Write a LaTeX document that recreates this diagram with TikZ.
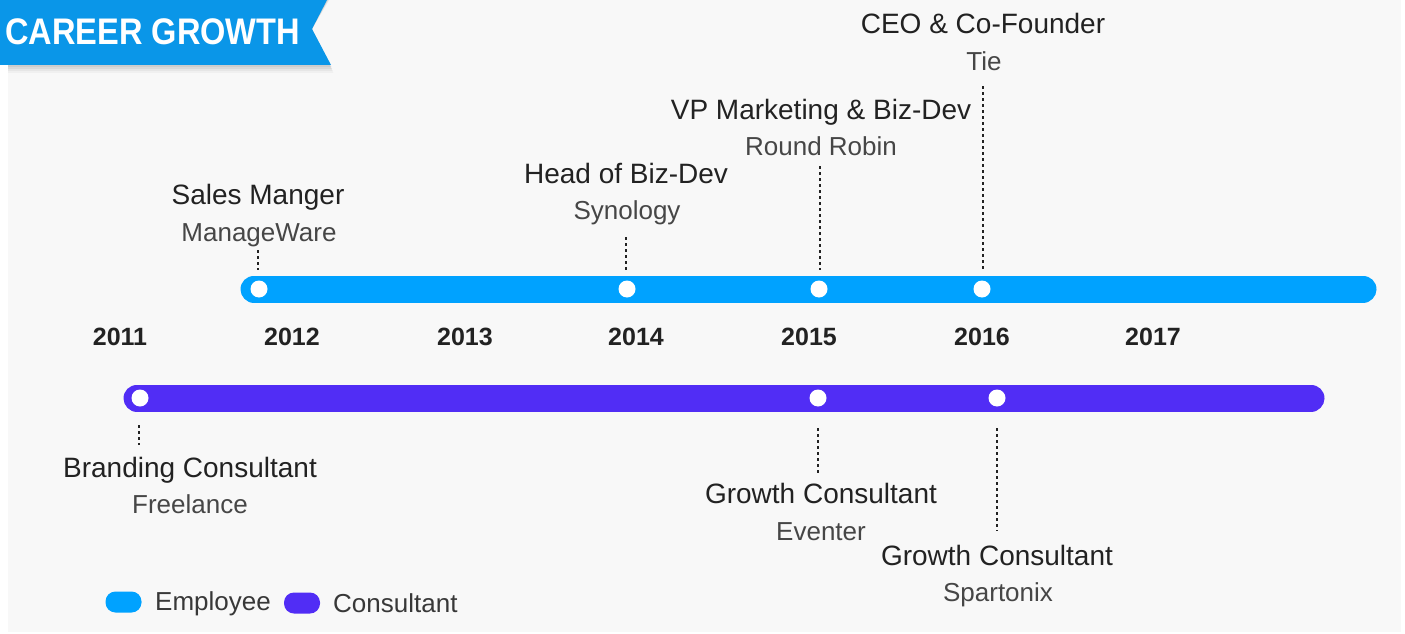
\documentclass[tikz,border=0pt]{standalone}
\usepackage{fontspec}
\setmainfont{Liberation Sans}
\definecolor{bgc}{HTML}{F8F8F8}
\definecolor{ribbon}{HTML}{0A96E8}
\definecolor{emp}{HTML}{00A2FF}
\definecolor{con}{HTML}{512DF5}
\definecolor{ttl}{HTML}{222222}
\definecolor{sub}{HTML}{464646}
\tikzset{
  bar/.style={line width=27pt, line cap=round},
  dotw/.style={circle, fill=white, inner sep=0pt, minimum size=17pt},
  vdots/.style={line width=2.8pt, dash pattern=on 2.8pt off 3.2pt, ttl},
  ttlnode/.style={font=\fontsize{28}{30}\selectfont, text=ttl, inner sep=0pt, anchor=base, yshift=-10pt},
  subnode/.style={font=\fontsize{26}{30}\selectfont, text=sub, inner sep=0pt, anchor=base, yshift=-9.5pt},
  year/.style={font=\fontsize{25}{28}\selectfont\bfseries, text=ttl, inner sep=0pt, anchor=center},
  pill/.style={rounded corners=10pt, inner sep=0pt, minimum width=36pt, minimum height=21pt},
  legtext/.style={font=\fontsize{26}{30}\selectfont, text=ttl!90, inner sep=0pt, anchor=base west, yshift=-9.5pt},
}
\begin{document}
\begin{tikzpicture}[x=1pt,y=-1pt]
\useasboundingbox (0,0) rectangle (1405,634);
\fill[bgc] (8,0) rectangle (1401,632);
% ribbon shadow
\foreach \o/\a in {2/0.06,4/0.05,6/0.04,8/0.03}{
  \fill[black,opacity=\a] (8,0) -- (327+\o*0.3,0) -- (312,29) -- (331+\o*0.3,65+\o) -- (8,65+\o) -- cycle;
}
% ribbon
\fill[ribbon] (0,0) -- (327,0) -- (312,29) -- (331,65) -- (0,65) -- cycle;
\node[font=\fontsize{37}{40}\selectfont\bfseries, text=white, inner sep=0pt, anchor=west] (title) at (5,32) {\scalebox{0.88}[1]{CAREER GROWTH}};

% bars
\coordinate (e1) at (254,289); \coordinate (e2) at (1363,289);
\coordinate (c1) at (137,398); \coordinate (c2) at (1311,398);
\draw[bar, emp] (e1) -- (e2);
\draw[bar, con] (c1) -- (c2);

% employee dots
\node[dotw] (d1) at (259,289) {};
\node[dotw] (d2) at (627,289) {};
\node[dotw] (d3) at (819,289) {};
\node[dotw] (d4) at (982,289) {};
% consultant dots
\node[dotw] (k1) at (140,398) {};
\node[dotw] (k2) at (818,398) {};
\node[dotw] (k3) at (997,398) {};

% years
\node[year] (y11) at (120,337) {2011};
\node[year] (y12) at (292,337) {2012};
\node[year] (y13) at (465,337) {2013};
\node[year] (y14) at (636,337) {2014};
\node[year] (y15) at (809,337) {2015};
\node[year] (y16) at (982,337) {2016};
\node[year] (y17) at (1153,337) {2017};

% employee labels
\node[ttlnode] (t1) at (258,194) {Sales Manger};
\node[subnode] (s1) at (259,232) {ManageWare};
\coordinate (p1) at (258,250); \coordinate (q1) at (258,270);
\draw[vdots] (p1) -- (q1);

\node[ttlnode] (t2) at (626,173) {Head of Biz-Dev};
\node[subnode] (s2) at (627,210) {Synology};
\coordinate (p2) at (626,237); \coordinate (q2) at (626,270);
\draw[vdots] (p2) -- (q2);

\node[ttlnode] (t3) at (821,109) {VP Marketing \& Biz-Dev};
\node[subnode] (s3) at (821,146) {Round Robin};
\coordinate (p3) at (820,166); \coordinate (q3) at (820,270);
\draw[vdots] (p3) -- (q3);

\node[ttlnode] (t4) at (983,24) {CEO \& Co-Founder};
\node[subnode] (s4) at (984,61) {Tie};
\coordinate (p4) at (983,86); \coordinate (q4) at (983,270);
\draw[vdots] (p4) -- (q4);

% consultant labels
\coordinate (p5) at (139,425); \coordinate (q5) at (139,445);
\draw[vdots] (p5) -- (q5);
\node[ttlnode] (t5) at (190,467) {Branding Consultant};
\node[subnode] (s5) at (190,504) {Freelance};

\coordinate (p6) at (818,428); \coordinate (q6) at (818,474);
\draw[vdots] (p6) -- (q6);
\node[ttlnode] (t6) at (821,493) {Growth Consultant};
\node[subnode] (s6) at (821,531) {Eventer};

\coordinate (p7) at (997,428); \coordinate (q7) at (997,531);
\draw[vdots] (p7) -- (q7);
\node[ttlnode] (t7) at (997,555) {Growth Consultant};
\node[subnode] (s7) at (998,592) {Spartonix};

% legend
\node[pill, fill=emp] (le) at (123.5,602) {};
\node[legtext] (lt1) at (155,601) {Employee};
\node[pill, fill=con] (lc) at (302,603) {};
\node[legtext] (lt2) at (333,603) {Consultant};
\end{tikzpicture}
\end{document}
